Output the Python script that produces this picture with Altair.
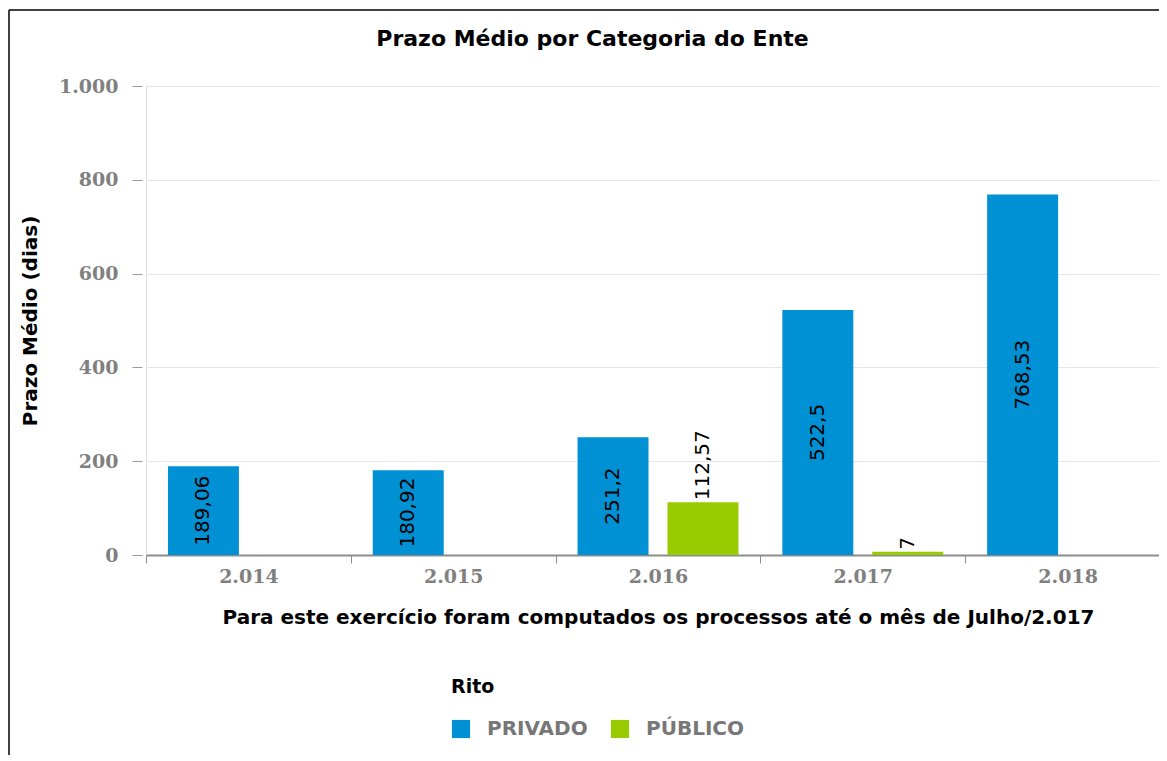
import altair as alt
import pandas as pd

categories = ["2.014", "2.015", "2.016", "2.017", "2.018"]
series = ["PRIVADO", "PÚBLICO"]
privado = [189.06, 180.92, 251.2, 522.5, 768.53]
publico = [None, None, 112.57, 7, None]
colors = ["#0090d4", "#99cc00"]
y_ticks = [0, 200, 400, 600, 800, 1000]

rows = []
for i, c in enumerate(categories):
    rows.append({"ano": c, "rito": series[0], "v": privado[i]})
    if publico[i] is not None:
        rows.append({"ano": c, "rito": series[1], "v": publico[i]})
df = pd.DataFrame(rows)

YTITLE = "Prazo Médio (dias)"
XTITLE = "Para este exercício foram computados os processos até o mês de Julho/2.017"

x_enc = alt.X(
    "ano:N", sort=categories,
    scale=alt.Scale(paddingInner=0, paddingOuter=0, range=[0, 1024]),
    axis=alt.Axis(
        title=XTITLE, labelAngle=0, tickBand="extent", tickSize=8,
        tickColor="#8c8c8c", domainColor="#8c8c8c", domainWidth=2,
        labelFont="DejaVu Serif", labelFontWeight="bold", labelFontSize=19,
        labelColor="#808080", labelPadding=4,
        titleFont="DejaVu Sans", titleFontWeight="bold", titleFontSize=20,
        titleColor="#000000", titleX=512, titleY=68, titleBaseline="alphabetic",
        grid=False,
    ),
)
xo_enc = alt.XOffset("rito:N", sort=series,
                     scale=alt.Scale(paddingInner=0.211, paddingOuter=0.244))

y_axis = alt.Axis(
    title=YTITLE, values=y_ticks, domain=False, offset=4, tickSize=10,
    tickColor="#999999", gridColor="#e6e6e6", grid=True, labelPadding=14,
    labelExpr="replace(format(datum.value, ','), ',', '.')",
    labelFont="DejaVu Serif", labelFontWeight="bold", labelFontSize=19,
    labelColor="#808080",
    titleFont="DejaVu Sans", titleFontWeight="bold", titleFontSize=20,
    titleColor="#000000", titleAngle=270, titleX=-112, titleY=234.5,
    titleAlign="center", titleBaseline="middle",
)

base = alt.Chart(df).encode(x=x_enc, xOffset=xo_enc)

bars = base.mark_bar().encode(
    y=alt.Y("v:Q", scale=alt.Scale(domain=[0, 1000]), axis=y_axis, title=YTITLE),
    color=alt.Color(
        "rito:N", scale=alt.Scale(domain=series, range=colors),
        legend=alt.Legend(
            title="Rito", orient="none", legendX=305, legendY=592,
            direction="horizontal", symbolType="square", symbolSize=330,
            symbolStrokeWidth=0, labelOffset=16, columnPadding=22,
            titleFont="DejaVu Sans", titleFontWeight="bold", titleFontSize=19,
            titleColor="#000000", titlePadding=22,
            labelFont="DejaVu Sans", labelFontWeight="bold", labelFontSize=20,
            labelColor="#777777",
        ),
    ),
)

lbl_priv = base.transform_filter(alt.datum.rito == series[0]).transform_calculate(
    mid="datum.v / 2", lbl="replace(toString(datum.v), '.', ',')"
).mark_text(angle=270, align="center", baseline="middle",
            font="DejaVu Sans", fontSize=20, color="#000000").encode(
    y=alt.Y("mid:Q", title=YTITLE), text="lbl:N")

lbl_pub = base.transform_filter(alt.datum.rito == series[1]).transform_calculate(
    lbl="replace(toString(datum.v), '.', ',')"
).mark_text(angle=270, align="left", baseline="middle", dx=2,
            font="DejaVu Sans", fontSize=20, color="#000000").encode(
    y=alt.Y("v:Q", title=YTITLE), text="lbl:N")

frame_df = pd.DataFrame({"k": [0]})
frame_left = alt.Chart(frame_df).mark_rule(color="#000000", strokeWidth=1.5).encode(
    x=alt.value(-137), y=alt.value(-76), y2=alt.value(700))
frame_top = alt.Chart(frame_df).mark_rule(color="#000000", strokeWidth=1.5).encode(
    x=alt.value(-137), x2=alt.value(1040), y=alt.value(-76))

chart = alt.layer(bars, lbl_priv, lbl_pub, frame_left, frame_top).properties(
    width=1013, height=469,
    autosize=alt.AutoSizeParams(type="none"),
    padding={"left": 138, "top": 78, "right": 0, "bottom": 200},
    title=alt.Title("Prazo Médio por Categoria do Ente", frame="group",
                    anchor="middle", dx=-60, offset=-59, baseline="alphabetic",
                    font="DejaVu Sans", fontWeight="bold", fontSize=22,
                    color="#000000"),
).configure_view(stroke=None).configure(background="#ffffff")

chart.save("out.html", embed_options={"renderer": "svg", "actions": False})
